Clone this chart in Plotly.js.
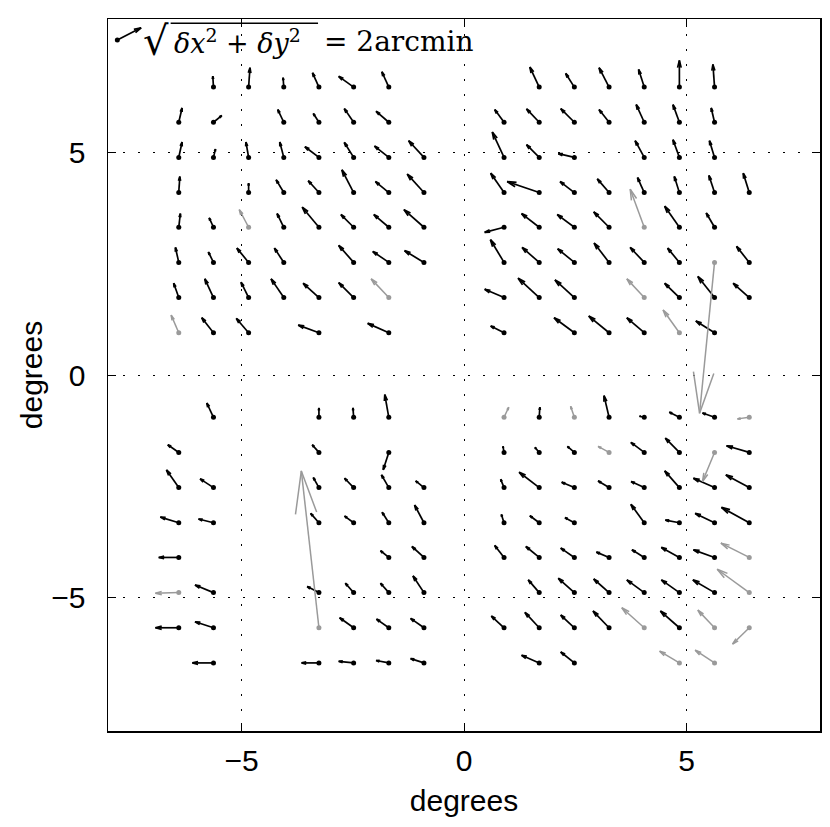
<!DOCTYPE html>
<html><head><meta charset="utf-8">
<script src="https://cdn.plot.ly/plotly-3.0.1.min.js"></script>
<style>body{margin:0;background:#fff}</style>
</head><body>
<div id="chart" style="width:830px;height:827px"></div>
<script>
// ---- data: grid positions (degrees) and displacements (arcmin) ----
const blackX = [
 -5.63,-4.84,-4.05,-3.26,-2.48,-1.69,
 -6.41,-5.63,-4.05,-3.26,-2.48,-1.69,
 -6.41,-5.63,-4.84,-4.05,-3.26,-2.48,-1.69,-0.90,
 -6.41,-4.84,-4.05,-3.26,-2.48,-1.69,-0.90,
 -6.41,-5.63,-4.05,-3.26,-2.48,-1.69,-0.90,
 -6.41,-5.63,-4.84,-4.05,-2.48,-1.69,-0.90,
 -6.41,-5.63,-4.84,-4.05,-3.26,-2.48,
 -5.63,-4.84,-3.26,-1.69,
 1.69,2.48,3.26,4.05,4.84,5.63,
 0.90,1.69,2.48,3.26,4.05,4.84,5.63,
 0.90,1.69,2.48,4.05,4.84,5.63,
 0.90,1.69,2.48,3.26,4.05,4.84,5.63,6.41,
 0.90,1.69,2.48,3.26,4.84,5.63,
 0.90,1.69,2.48,3.26,4.05,4.84,6.41,
 0.90,1.69,2.48,4.84,5.63,6.41,
 0.90,2.48,3.26,4.05,5.63,
 -5.63,-3.26,-2.48,-1.69,
 -6.41,-3.26,-1.69,
 -6.41,-5.63,-3.26,-2.48,-1.69,-0.90,
 -6.41,-5.63,-3.26,-2.48,-1.69,-0.90,
 -6.41,-1.69,-0.90,
 -5.63,-3.26,-2.48,-1.69,-0.90,
 -6.41,-5.63,-2.48,-1.69,-0.90,
 -5.63,-3.26,-2.48,-1.69,-0.90,
 1.69,3.26,4.05,4.84,5.63,
 0.90,1.69,2.48,4.05,4.84,6.41,
 0.90,1.69,2.48,3.26,4.05,4.84,5.63,6.41,
 0.90,1.69,2.48,4.05,4.84,5.63,6.41,
 0.90,1.69,2.48,3.26,4.05,4.84,5.63,
 1.69,2.48,3.26,4.05,4.84,5.63,
 0.90,1.69,2.48,3.26,4.84,
 1.69,2.48
];
const blackY = [
 6.47,6.47,6.47,6.47,6.47,6.47,
 5.68,5.68,5.68,5.68,5.68,5.68,
 4.89,4.89,4.89,4.89,4.89,4.89,4.89,4.89,
 4.10,4.10,4.10,4.10,4.10,4.10,4.10,
 3.32,3.32,3.32,3.32,3.32,3.32,3.32,
 2.53,2.53,2.53,2.53,2.53,2.53,2.53,
 1.74,1.74,1.74,1.74,1.74,1.74,
 0.95,0.95,0.95,0.95,
 6.47,6.47,6.47,6.47,6.47,6.47,
 5.68,5.68,5.68,5.68,5.68,5.68,5.68,
 4.89,4.89,4.89,4.89,4.89,4.89,
 4.10,4.10,4.10,4.10,4.10,4.10,4.10,4.10,
 3.32,3.32,3.32,3.32,3.32,3.32,
 2.53,2.53,2.53,2.53,2.53,2.53,2.53,
 1.74,1.74,1.74,1.74,1.74,1.74,
 0.95,0.95,0.95,0.95,0.95,
 -0.95,-0.95,-0.95,-0.95,
 -1.74,-1.74,-1.74,
 -2.53,-2.53,-2.53,-2.53,-2.53,-2.53,
 -3.32,-3.32,-3.32,-3.32,-3.32,-3.32,
 -4.10,-4.10,-4.10,
 -4.89,-4.89,-4.89,-4.89,-4.89,
 -5.68,-5.68,-5.68,-5.68,-5.68,
 -6.47,-6.47,-6.47,-6.47,-6.47,
 -0.95,-0.95,-0.95,-0.95,-0.95,
 -1.74,-1.74,-1.74,-1.74,-1.74,-1.74,
 -2.53,-2.53,-2.53,-2.53,-2.53,-2.53,-2.53,-2.53,
 -3.32,-3.32,-3.32,-3.32,-3.32,-3.32,-3.32,
 -4.10,-4.10,-4.10,-4.10,-4.10,-4.10,-4.10,
 -4.89,-4.89,-4.89,-4.89,-4.89,-4.89,
 -5.68,-5.68,-5.68,-5.68,-5.68,
 -6.47,-6.47
];
const blackU = [
 -0.05,0.10,-0.05,-0.48,-1.12,-0.52,
 0.25,0.62,-0.45,-0.42,-0.70,-0.95,
 0.25,0.15,-0.20,-0.30,-1.05,-0.70,-1.07,-1.15,
 0.08,0,-0.57,-0.80,-0.88,-1.00,-1.25,
 0.12,-0.32,-0.50,-1.25,-0.95,-1.12,-1.50,
 -0.25,-0.38,-0.88,-0.70,-1.12,-1.20,-1.45,
 -0.38,-0.65,-0.57,-0.95,-1.18,-1.12,
 -0.88,-0.92,-1.55,-1.58,
 -0.70,-0.65,-0.75,-0.42,0,-0.12,
 -0.70,-0.95,-1.02,-0.75,-0.60,-0.48,-0.25,
 -0.88,-0.95,-1.20,-0.68,-0.48,-0.38,
 -1.00,-2.40,-1.07,-0.88,-0.50,-0.38,-0.42,-0.45,
 -1.45,-1.32,-1.28,-1.15,-1.10,-0.62,
 -1.02,-1.28,-1.25,-1.12,-1.05,-0.88,-0.95,
 -1.45,-1.58,-1.45,-1.10,-1.25,-1.20,
 -1.00,-1.52,-1.52,-1.30,-1.40,
 -0.50,0,-0.05,-0.30,
 -0.82,-0.50,-0.42,
 -0.92,-1.00,-0.42,-0.68,-0.55,-0.62,
 -1.38,-1.12,-0.62,-0.68,-0.50,-0.70,
 -1.50,-0.62,-0.90,
 -1.38,-0.88,-0.62,-0.62,-0.82,
 -1.75,-1.38,-1.05,-0.92,-1.00,
 -1.58,-1.30,-1.12,-0.95,-1.00,
 0.05,-0.38,-0.35,-0.75,-0.90,
 -0.08,-0.32,-0.52,-1.00,-1.05,-1.70,
 -0.25,-1.50,-0.95,-0.82,-0.98,-1.10,-1.58,-1.75,
 -0.20,-0.70,-0.70,-1.00,-1.05,-1.45,-2.08,
 -0.70,-1.00,-1.02,-0.95,-0.92,-1.35,-1.58,
 -0.82,-1.20,-1.15,-1.30,-1.35,-1.62,
 -0.95,-1.07,-1.02,-1.20,-1.42,
 -1.32,-1.02
];
const blackV = [
 0.82,1.45,0.70,1.07,0.80,1.15,
 1.07,0.50,0.95,0.65,1.02,0.82,
 1.15,0.62,1.15,1.15,0.80,1.12,0.85,1.25,
 1.20,0.70,0.95,0.88,1.70,0.82,1.38,
 1.02,0.70,1.02,1.50,0.95,0.95,1.32,
 1.12,0.78,1.07,1.07,1.28,0.82,0.88,
 1.07,1.40,1.15,1.40,1.07,1.12,
 1.12,1.07,0.57,0.70,
 1.50,1.02,1.45,1.32,2.00,1.70,
 0.95,1.00,1.02,0.95,1.32,1.32,1.07,
 1.90,0.95,0.28,1.25,1.32,1.25,
 1.45,0.82,0.82,1.02,1.12,1.20,1.28,1.45,
 -0.38,1.02,0.95,1.15,1.58,1.07,
 1.70,1.12,1.02,1.45,1.12,1.07,1.20,
 0.62,1.45,1.32,1.07,1.58,1.07,
 0.50,1.12,1.25,1.12,0.88,
 1.07,0.70,0.70,1.70,
 0.57,0.57,-1.30,
 1.32,0.65,0.75,0.70,0.95,0.50,
 0.42,0.28,0.70,0.50,0.78,1.32,
 0,0.50,0.82,
 0.57,0.45,0.70,0.70,1.25,
 0,0.45,0.75,0.65,0.70,
 0,0,0.12,0.18,0.32,
 0.75,1.62,0.08,0.38,0.32,
 0.45,0.38,0.45,0.75,1.07,0.50,
 0.62,1.15,0.40,0.50,0.45,1.25,0.70,0.95,
 0.62,0.52,0.38,1.38,0.20,0.70,1.15,
 0.90,0.82,0.70,0.40,0.57,0.75,0.57,
 0.95,1.07,1.02,0.95,0.95,0.95,
 0.88,1.15,0.95,1.25,1.25,
 0.57,0.82
];
const grayX = [-4.84,-1.69,-6.41, 4.05,5.63,4.05,4.84, -6.41,-3.26,
  0.90,2.48,6.41,3.26,5.63,6.41,6.41,4.05,5.63,6.41,4.84,5.63];
const grayY = [3.32,1.74,0.95, 3.32,2.53,1.74,0.95, -4.89,-5.68,
  -0.95,-0.95,-0.95,-1.74,-1.74,-4.10,-4.89,-5.68,-5.68,-5.68,-6.47,-6.47];
const grayU = [-0.70,-1.32,-0.57, -1.05,-1.12,-1.30,-1.22, -1.75,-1.32,
  0.35,-0.28,-0.88,-0.82,-0.90,-2.12,-2.40,-1.68,-1.25,-1.25,-1.48,-1.45];
const grayV = [1.32,1.40,1.32, 2.85,-11.30,1.40,1.70, -0.05,11.75,
  0.75,0.82,-0.12,0.45,-2.18,1.07,1.75,1.50,1.32,-1.22,0.88,0.95];
// legend key arrow: 2 arcmin
const keyX = [-7.79], keyY = [7.53], keyU = [1.78], keyV = [0.91];
const tickVals = [-5, 0, 5];
const tickText = ['\u22125', '0', '5'];

// ---- quiver geometry ----
const S = 0.3;          // degrees drawn per arcmin
const ALPHA = 0.27, BETA = 0.25;
function quiver(X, Y, U, V) {
  const xs = [], ys = [];
  for (let i = 0; i < X.length; i++) {
    const du = S * U[i], dv = S * V[i];
    const tx = X[i] + du, ty = Y[i] + dv;
    xs.push(X[i], tx, null,
      tx - ALPHA * (du + BETA * dv), tx, tx - ALPHA * (du - BETA * dv), null);
    ys.push(Y[i], ty, null,
      ty - ALPHA * (dv - BETA * du), ty, ty - ALPHA * (dv + BETA * du), null);
  }
  return {xs, ys};
}
function arrowTraces(X, Y, U, V, color, lw) {
  const q = quiver(X, Y, U, V);
  return [
    {type: 'scatter', mode: 'lines', x: q.xs, y: q.ys, hoverinfo: 'skip',
     line: {color: color, width: lw}, showlegend: false},
    {type: 'scatter', mode: 'markers', x: X, y: Y, hoverinfo: 'skip',
     marker: {color: color, size: 5}, showlegend: false}
  ];
}
const traces = [].concat(
  arrowTraces(blackX, blackY, blackU, blackV, '#000000', 1.7),
  arrowTraces(grayX, grayY, grayU, grayV, '#9a9a9a', 1.5),
  arrowTraces(keyX, keyY, keyU, keyV, '#000000', 1.7)
);

const FONT = 'Liberation Sans, Arial, sans-serif';
const axisCommon = {
  range: [-8, 8], tickvals: tickVals, ticktext: tickText,
  showgrid: true, gridcolor: '#000', gridwidth: 1, griddash: '1.5px,13.5px',
  zeroline: false, showline: true, linecolor: '#000', linewidth: 1.5,
  mirror: 'ticks', ticks: 'inside', ticklen: 8, tickwidth: 1, tickcolor: '#000',
  tickfont: {family: FONT, size: 30, color: '#000'},
  fixedrange: true
};
const layout = {
  width: 830, height: 827,
  margin: {l: 108, r: 10, t: 19, b: 96},
  paper_bgcolor: '#fff', plot_bgcolor: '#fff',
  xaxis: Object.assign({}, axisCommon, {
    ticklabelstandoff: 2,
    title: {text: 'degrees', standoff: 14, font: {family: FONT, size: 30, color: '#000'}}
  }),
  yaxis: Object.assign({}, axisCommon, {
    ticklabelstandoff: 15,
    title: {text: 'degrees', standoff: 0, font: {family: FONT, size: 30, color: '#000'}}
  }),
  annotations: [
    {xref: 'paper', yref: 'paper', x: 0.047, y: 0.969, xanchor: 'left', yanchor: 'middle',
     text: '\u221A', showarrow: false,
     font: {family: 'DejaVu Serif, serif', size: 40, color: '#000'}},
    {xref: 'paper', yref: 'paper', x: 0.090, y: 0.969, xanchor: 'left', yanchor: 'middle',
     text: '<i>\u03B4x</i><sup>2</sup> + <i>\u03B4y</i><sup>2</sup>', showarrow: false,
     font: {family: 'DejaVu Serif, serif', size: 27, color: '#000'}},
    {xref: 'paper', yref: 'paper', x: 0.300, y: 0.969, xanchor: 'left', yanchor: 'middle',
     text: '= 2arcmin', showarrow: false,
     font: {family: 'DejaVu Serif, serif', size: 28, color: '#000'}}
  ],
  shapes: [
    {type: 'line', xref: 'paper', yref: 'paper', x0: 0.088, x1: 0.295, y0: 0.994, y1: 0.994,
     line: {color: '#000', width: 1.5}}
  ]
};
Plotly.newPlot('chart', traces, layout, {displayModeBar: false, staticPlot: true});
</script>
</body></html>
